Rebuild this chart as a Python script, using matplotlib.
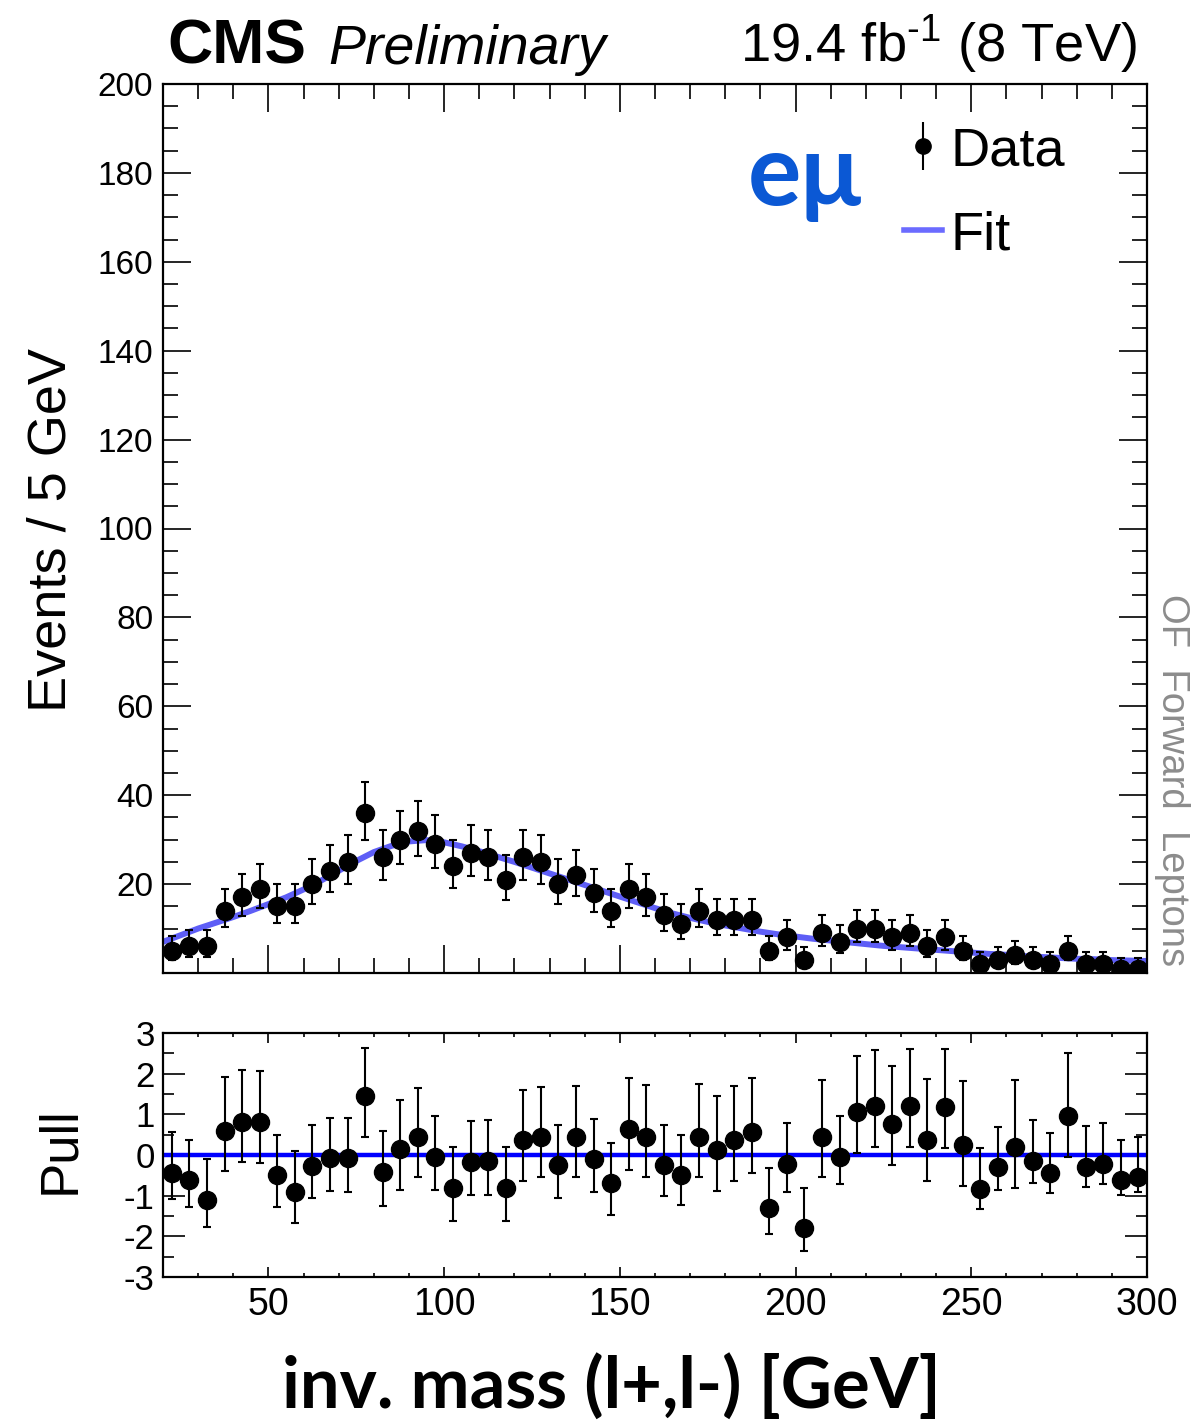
import math
import numpy as np
import matplotlib
matplotlib.use("Agg")
import matplotlib.pyplot as plt
from matplotlib.lines import Line2D
from matplotlib.legend_handler import HandlerTuple
from matplotlib.ticker import MultipleLocator, FixedLocator

# ---------------------------------------------------------------- data
mass_range = (20, 300)
bin_width = 5
bin_centers = np.arange(mass_range[0] + bin_width / 2, mass_range[1], bin_width)

counts = [5, 6, 6, 14, 17, 19, 15, 15, 20, 23,
          25, 36, 26, 30, 32, 29, 24, 27, 26, 21,
          26, 25, 20, 22, 18, 14, 19, 17, 13, 11,
          14, 12, 12, 12, 5, 8, 3, 9, 7, 10,
          10, 8, 9, 6, 8, 5, 2, 3, 4, 3,
          2, 5, 2, 2, 1, 1]

pulls = [-0.44, -0.62, -1.11, 0.60, 0.82, 0.81, -0.50, -0.90, -0.26, -0.08,
         -0.08, 1.45, -0.42, 0.14, 0.45, -0.04, -0.80, -0.16, -0.15, -0.81,
         0.37, 0.45, -0.25, 0.45, -0.11, -0.70, 0.63, 0.45, -0.25, -0.50,
         0.45, 0.12, 0.37, 0.56, -1.31, -0.21, -1.80, 0.45, -0.04, 1.06,
         1.20, 0.76, 1.20, 0.37, 1.17, 0.25, -0.83, -0.30, 0.19, -0.14,
         -0.45, 0.95, -0.29, -0.22, -0.62, -0.55]

# fitted model evaluated on the bin edges
fit_mass = np.arange(mass_range[0], mass_range[1] + bin_width, bin_width)
fit_values = [7.0, 8.5, 10.0, 11.3, 12.6, 14.0, 15.5, 17.0, 18.8, 20.8,
              23.0, 25.2, 27.2, 28.6, 29.6, 29.9, 29.4, 28.5, 27.4, 26.2,
              25.0, 23.7, 22.4, 21.1, 19.8, 18.5, 17.2, 15.9, 14.6, 13.4,
              12.4, 11.5, 10.7, 10.0, 9.3, 8.7, 8.2, 7.7, 7.3, 6.9,
              6.5, 6.1, 5.8, 5.5, 5.2, 4.9, 4.6, 4.3, 4.1, 3.8,
              3.6, 3.4, 3.2, 3.1, 2.9, 2.8, 2.7]


# ---------------------------------------------------------------- Poisson (Garwood) errors
def poisson_cdf(k, mu):
    if k < 0:
        return 0.0
    return sum(math.exp(-mu + i * math.log(mu) - math.lgamma(i + 1)) for i in range(k + 1))


def solve(f, target, lo, hi, decreasing=True):
    for _ in range(80):
        mid = 0.5 * (lo + hi)
        val = f(mid)
        if (val > target) == decreasing:
            lo = mid
        else:
            hi = mid
    return 0.5 * (lo + hi)


alpha = 0.158655
err_lo, err_hi = [], []
for n in counts:
    up = solve(lambda m: poisson_cdf(n, m), alpha, max(n, 1e-6), n + 10 * math.sqrt(n + 1) + 10)
    lo = 0.0 if n == 0 else solve(lambda m: poisson_cdf(n - 1, m), 1 - alpha, 1e-9, n)
    err_hi.append(up - n)
    err_lo.append(n - lo)
err_lo = np.array(err_lo)
err_hi = np.array(err_hi)

# pull uncertainties: the side facing the fit is normalised to one
pulls_arr = np.array(pulls)
pull_up = np.where(pulls_arr >= 0, err_hi / err_lo, 1.0)
pull_dn = np.where(pulls_arr >= 0, 1.0, err_lo / err_hi)

# ---------------------------------------------------------------- style
plt.rcParams["font.family"] = ["Liberation Sans", "DejaVu Sans"]
plt.rcParams["mathtext.fontset"] = "custom"
plt.rcParams["mathtext.rm"] = "Liberation Sans"
plt.rcParams["mathtext.it"] = "Liberation Sans:italic"
plt.rcParams["axes.unicode_minus"] = False
plt.rcParams["axes.linewidth"] = 1.6

W, H = 1198, 1421
fig = plt.figure(figsize=(W / 100, H / 100), dpi=100)


def rect(x0, y0, x1, y1):
    return [x0 / W, 1 - y1 / H, (x1 - x0) / W, (y1 - y0) / H]


def fpos(x, y):
    return x / W, 1 - y / H


ax = fig.add_axes(rect(163, 84, 1147, 973))
axp = fig.add_axes(rect(163, 1033, 1147, 1277))

fit_color = "#5e5ef6"

# ---------------------------------------------------------------- main panel
ax.plot(fit_mass, fit_values, color=fit_color, lw=4.3, zorder=2)
ax.errorbar(bin_centers, counts, yerr=[err_lo, err_hi], fmt="o", color="black",
            ms=13, elinewidth=1.5, capsize=3, capthick=1.5, zorder=3)

ax.set_xlim(*mass_range)
ax.set_ylim(0, 200)
ax.xaxis.set_major_locator(MultipleLocator(50))
ax.xaxis.set_minor_locator(MultipleLocator(10))
ax.yaxis.set_major_locator(FixedLocator(np.arange(20, 201, 20)))
ax.yaxis.set_minor_locator(MultipleLocator(5))
ax.tick_params(which="both", direction="in", top=True, right=True, width=1.2)
ax.tick_params(which="major", length=20)
ax.tick_params(which="minor", length=10.5)
ax.tick_params(axis="x", labelbottom=False)
ax.tick_params(axis="y", labelsize=24, pad=7)

# ---------------------------------------------------------------- pull panel
axp.axhline(0, color="#0000ff", lw=3.2, zorder=2)
axp.errorbar(bin_centers, pulls, yerr=[pull_dn, pull_up], fmt="o", color="black",
             ms=13, elinewidth=1.5, capsize=3, capthick=1.5, zorder=3)
axp.set_xlim(*mass_range)
axp.set_ylim(-3, 3)
axp.xaxis.set_major_locator(MultipleLocator(50))
axp.xaxis.set_minor_locator(MultipleLocator(10))
axp.yaxis.set_major_locator(MultipleLocator(1))
axp.yaxis.set_minor_locator(MultipleLocator(0.5))
axp.tick_params(which="both", direction="in", top=True, right=True, width=1.2)
axp.tick_params(axis="y", which="major", length=16)
axp.tick_params(axis="y", which="minor", length=8)
axp.tick_params(axis="x", which="major", length=7)
axp.tick_params(axis="x", which="minor", length=3)
axp.tick_params(axis="y", labelsize=25, pad=6)
axp.tick_params(axis="x", labelsize=27, pad=7)

# ---------------------------------------------------------------- texts
fig.text(*fpos(167, 64), "CMS", fontsize=45, fontweight="bold", ha="left", va="baseline")
fig.text(*fpos(328, 64), "Preliminary", fontsize=40, fontstyle="italic", ha="left", va="baseline")
fig.text(*fpos(1137, 62), r"19.4 fb$^{\text{-1}}$ (8 TeV)", fontsize=39.2, ha="right", va="baseline")

fig.text(*fpos(52, 530), "Events / 5 GeV", fontsize=39, rotation=90, ha="center", va="center")
fig.text(*fpos(60, 1150), "Pull", fontsize=38, rotation=90, ha="center", va="center")
fig.text(*fpos(611, 1386), "inv. mass (l+,l-) [GeV]", fontsize=50.8, fontweight="bold",
         family=["Lato", "DejaVu Sans"], ha="center", va="center")

fig.text(*fpos(805, 205), "eμ", fontsize=72, fontweight="bold", color="#0b58d4",
         family=["Lato", "DejaVu Sans"], ha="center", va="baseline")

fig.text(*fpos(1172, 780), "OF  Forward  Leptons", fontsize=27.5, color="#8c8c8c",
         rotation=-90, ha="center", va="center")

# ---------------------------------------------------------------- legend
data_handle = (Line2D([], [], color="black", marker="|", ms=34, mew=1.5, ls="None"),
               Line2D([], [], color="black", marker="o", ms=11, ls="None"))
fit_handle = Line2D([], [], color="#6b6bff", lw=4)
fig.legend([data_handle, fit_handle], ["Data", "Fit"],
           handler_map={tuple: HandlerTuple(ndivide=1, pad=0)},
           loc="upper left", bbox_to_anchor=fpos(904, 126), frameon=False,
           fontsize=39, handlelength=0.7, handletextpad=0.15, labelspacing=0.63,
           borderpad=0, borderaxespad=0)

fig.savefig("out.png", dpi=100)
